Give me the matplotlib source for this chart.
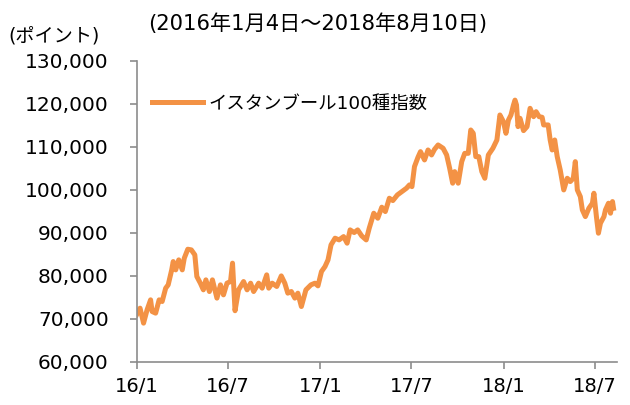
import matplotlib
matplotlib.use('Agg')
import matplotlib.pyplot as plt
import matplotlib.ticker as mticker
import pandas as pd

plt.rcParams['font.family'] = ['DejaVu Sans', 'Noto Sans CJK JP']

# イスタンブール100種指数（画像から読み取った概算値）
dates = [
    '2016-01-04', '2016-01-11', '2016-01-18', '2016-01-25', '2016-02-01', '2016-02-04',
    '2016-02-11', '2016-02-18', '2016-02-24', '2016-03-02', '2016-03-07', '2016-03-14',
    '2016-03-17', '2016-03-22', '2016-03-28', '2016-04-04', '2016-04-08', '2016-04-15',
    '2016-04-22', '2016-04-29', '2016-05-03', '2016-05-10', '2016-05-16', '2016-05-21',
    '2016-05-28', '2016-06-03', '2016-06-12', '2016-06-19', '2016-06-25', '2016-07-02',
    '2016-07-09', '2016-07-13', '2016-07-18', '2016-07-25', '2016-08-04', '2016-08-11',
    '2016-08-18', '2016-08-24', '2016-09-03', '2016-09-10', '2016-09-19', '2016-09-23',
    '2016-09-30', '2016-10-09', '2016-10-18', '2016-10-25', '2016-10-31', '2016-11-07',
    '2016-11-14', '2016-11-20', '2016-11-27', '2016-12-06', '2016-12-16', '2016-12-24',
    '2016-12-30', '2017-01-06', '2017-01-13', '2017-01-19', '2017-01-25', '2017-02-02',
    '2017-02-10', '2017-02-19', '2017-02-26', '2017-03-04', '2017-03-12', '2017-03-19',
    '2017-03-27', '2017-04-05', '2017-04-11', '2017-04-20', '2017-04-28', '2017-05-06',
    '2017-05-13', '2017-05-21', '2017-05-28', '2017-06-06', '2017-06-15', '2017-06-24',
    '2017-06-30', '2017-07-05', '2017-07-10', '2017-07-17', '2017-07-22', '2017-07-30',
    '2017-08-06', '2017-08-13', '2017-08-19', '2017-08-26', '2017-09-05', '2017-09-12',
    '2017-09-18', '2017-09-24', '2017-09-28', '2017-10-05', '2017-10-12', '2017-10-18',
    '2017-10-25', '2017-10-30', '2017-11-04', '2017-11-09', '2017-11-15', '2017-11-21',
    '2017-11-27', '2017-12-04', '2017-12-13', '2017-12-21', '2017-12-27', '2018-01-03',
    '2018-01-08', '2018-01-13', '2018-01-18', '2018-01-23', '2018-01-26', '2018-01-29',
    '2018-02-01', '2018-02-05', '2018-02-12', '2018-02-19', '2018-02-25', '2018-03-04',
    '2018-03-09', '2018-03-15', '2018-03-21', '2018-03-24', '2018-04-02', '2018-04-06',
    '2018-04-10', '2018-04-15', '2018-04-20', '2018-04-26', '2018-05-03', '2018-05-10',
    '2018-05-16', '2018-05-22', '2018-05-26', '2018-05-30', '2018-06-05', '2018-06-09',
    '2018-06-15', '2018-06-22', '2018-06-29', '2018-07-02', '2018-07-07', '2018-07-11',
    '2018-07-15', '2018-07-22', '2018-07-25', '2018-07-31', '2018-08-04', '2018-08-08',
    '2018-08-10',
]
values = [
    70950, 72500, 69020, 72110, 74430, 71720,
    71340, 74430, 74040, 77140, 77910, 81390,
    83320, 81390, 83710, 81390, 84100, 86180,
    86030, 84870, 79840, 78300, 76750, 79070,
    76360, 79070, 74830, 77910, 75590, 78300,
    78680, 82950, 71900, 76750, 78680, 76750,
    78300, 76360, 78300, 77140, 80230, 77140,
    78300, 77530, 79990, 78300, 75980, 76360,
    74830, 75980, 72880, 76750, 77910, 78300,
    77680, 81000, 82160, 83710, 87190, 88740,
    88350, 89120, 87580, 90670, 90050, 90670,
    89280, 88350, 91060, 94540, 93380, 95940,
    94930, 98020, 97480, 98790, 99560, 100340,
    101110, 100720, 105360, 107540, 108840, 106910,
    109230, 108070, 109390, 110390, 109620, 108070,
    104990, 101510, 104200, 101510, 106520, 108450,
    108450, 113870, 113100, 107680, 107680, 104200,
    102660, 108070, 109620, 111550, 117350, 115800,
    113100, 116190, 117350, 119670, 120800, 119680,
    114650, 116580, 113720, 114650, 118900, 116960,
    118120, 116960, 116820, 115040, 115040, 111550,
    109230, 111550, 107680, 104590, 99950, 102660,
    101890, 102660, 106520, 99950, 98400, 95310,
    93760, 95700, 96860, 99180, 93760, 89900,
    92220, 93760, 95310, 96860, 94540, 97250,
    95700,
]
series_name = 'イスタンブール100種指数'
tick_dates = ['2016-01-04', '2016-07-04', '2017-01-04', '2017-07-04', '2018-01-04', '2018-07-04']
tick_labels = ['16/1', '16/7', '17/1', '17/7', '18/1', '18/7']

x = pd.to_datetime(dates)

fig = plt.figure(figsize=(6.3, 4.05), dpi=100)
ax = fig.add_axes([0.2167, 0.1062, 0.7627, 0.7444])

ax.plot(x, values, color='#F39245', linewidth=3.6, solid_joinstyle='round', label=series_name)

ax.set_ylim(60000, 130000)
ax.set_yticks(range(60000, 130001, 10000))
ax.yaxis.set_major_formatter(mticker.FuncFormatter(lambda v, p: f'{int(v):,}'))
ax.set_xlim(pd.Timestamp('2016-01-04'), pd.Timestamp('2018-08-17'))
ax.set_xticks(pd.to_datetime(tick_dates))
ax.set_xticklabels(tick_labels)

for s in ['top', 'right']:
    ax.spines[s].set_visible(False)
for s in ['left', 'bottom']:
    ax.spines[s].set_color('#8c8c8c')
    ax.spines[s].set_linewidth(1.2)
ax.tick_params(axis='both', colors='#8c8c8c', length=5, width=1.2, labelcolor='black', labelsize=14)
ax.tick_params(axis='y', pad=15, labelsize=14.5)
ax.tick_params(axis='x', pad=6)

ax.legend(loc='center left', bbox_to_anchor=(0.017, 0.857), frameon=False, fontsize=13.2,
          handlelength=2.8, handletextpad=0.3, borderaxespad=0)

fig.text(0.235, 0.942, '(2016年1月4日～2018年8月10日)', fontsize=15.2, va='center', ha='left')
fig.text(0.014, 0.91, '(ポイント)', fontsize=13.8, va='center', ha='left')

fig.savefig('out.png', dpi=100)
